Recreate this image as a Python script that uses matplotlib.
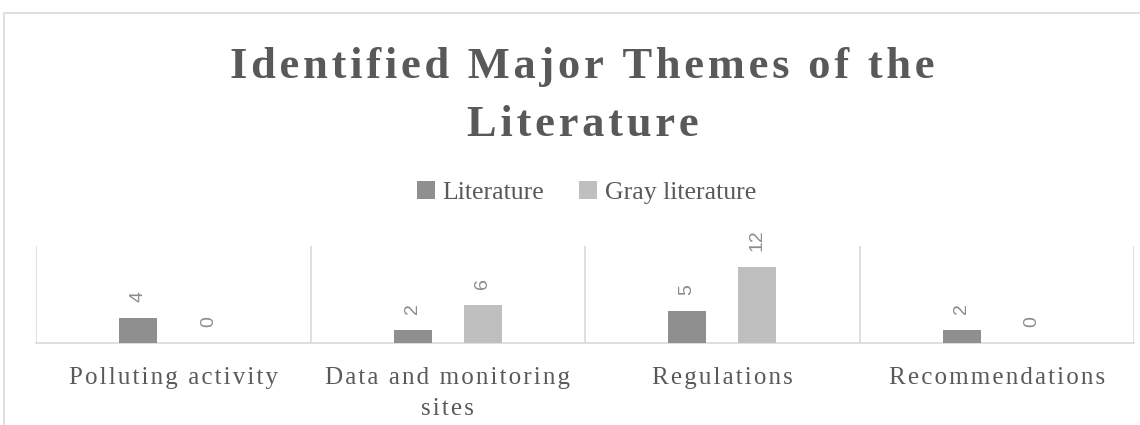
import matplotlib.pyplot as plt
import matplotlib.patches as mpatches
import numpy as np

categorias = ['Polluting activity', 'Data and monitoring\nsites', 'Regulations', 'Recommendations']
literatura = [4, 2, 5, 2]
gris = [0, 6, 12, 0]
series = ['Literature', 'Gray literature']
titulo = ['Identified Major Themes of the', 'Literature']

texto = '#595959'
fuente = ['Liberation Serif', 'DejaVu Serif']


def espaciado(s, sep='\u200a'):
    # letter spacing with narrow spaces
    return '\n'.join(sep.join(linea) for linea in s.split('\n'))


fig = plt.figure(figsize=(11.4, 4.25), dpi=100)
ax = fig.add_axes([36 / 1140, 82 / 425, 1098 / 1140, 97 / 425])

x = np.arange(len(categorias))
ancho = 0.138
desp = 0.128

b1 = ax.bar(x - desp, literatura, ancho, color='#8F8F8F', label=series[0], zorder=3)
b2 = ax.bar(x + desp, gris, ancho, color='#BFBFBF', label=series[1], zorder=3)

for barras in (b1, b2):
    for b in barras:
        v = b.get_height()
        ax.annotate(str(int(v)), (b.get_x() + b.get_width() / 2, v), xytext=(0, 11.5),
                    textcoords='offset points', rotation=90, ha='center', va='bottom',
                    fontsize=14, color='#8C8C8C', family='Liberation Sans')

ax.set_xlim(-0.5, len(categorias) - 0.5)
ax.set_ylim(0, 15.3)
for s in ['top', 'right', 'left']:
    ax.spines[s].set_visible(False)
ax.spines['bottom'].set_color('#D9D9D9')
ax.spines['bottom'].set_linewidth(1.2)
for sep in np.arange(-0.5, len(categorias), 1):
    ax.axvline(sep, color='#D9D9D9', lw=1.2, zorder=1)
ax.set_yticks([])
ax.set_xticks(x)
ax.set_xticklabels([espaciado(c) for c in categorias], fontsize=18, color=texto,
                   family=fuente, linespacing=1.5)
ax.tick_params(axis='x', length=0, pad=17.5)

fig.text(0.511, 1 - 78 / 425, espaciado(titulo[0]), ha='center', va='baseline',
         fontsize=32, fontweight='bold', color=texto, family=fuente)
fig.text(0.511, 1 - 136 / 425, espaciado(titulo[1]), ha='center', va='baseline',
         fontsize=32, fontweight='bold', color=texto, family=fuente)

fig.legend(loc='center', bbox_to_anchor=(0.5145, 0.548), ncol=2, frameon=False,
           prop={'family': fuente, 'size': 18.5}, labelcolor=texto, handlelength=0.7,
           handleheight=0.7, handletextpad=0.3, columnspacing=1.35)

marco = mpatches.Rectangle((4 / 1140, -0.1), 1.2, 1.1 - 13 / 425, transform=fig.transFigure,
                           fill=False, edgecolor='#D9D9D9', lw=1.2)
fig.patches.append(marco)

plt.savefig('out.png', dpi=100)
